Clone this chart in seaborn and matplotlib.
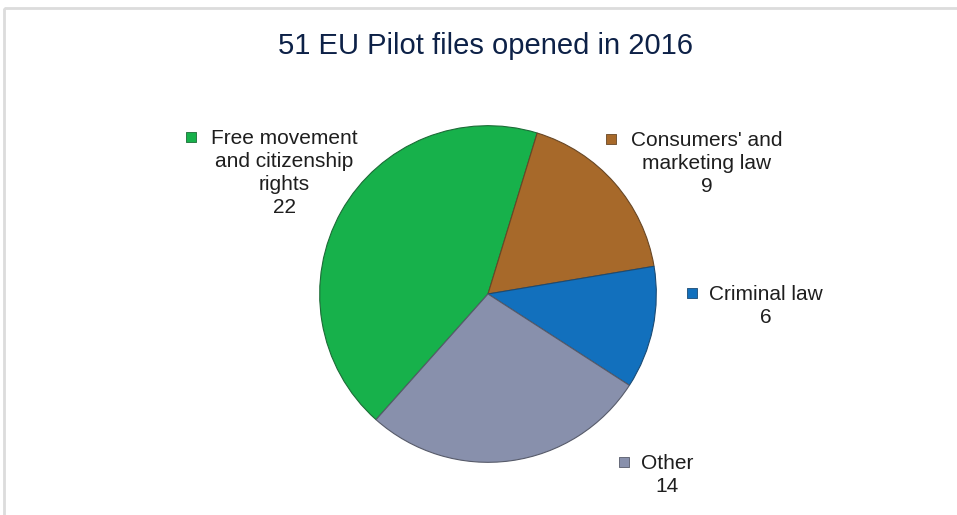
import matplotlib
matplotlib.use("Agg")
import matplotlib.pyplot as plt
import seaborn as sns
from matplotlib.patches import Rectangle

# Data
categories = ["Free movement\nand citizenship\nrights", "Consumers' and\nmarketing law",
              "Criminal law", "Other"]
counts = [22, 9, 6, 14]
slice_colors = ["#17B14B", "#A7692A", "#1270BD", "#8890AC"]
title = "51 EU Pilot files opened in 2016"

sns.set_theme(style="white")
plt.rcParams["font.family"] = ["Liberation Sans", "DejaVu Sans"]

W, H = 957, 515
fig = plt.figure(figsize=(W / 100, H / 100), dpi=100)
fig.patch.set_facecolor("white")

# Full-figure overlay in pixel coordinates for frame and labels
lab = fig.add_axes([0, 0, 1, 1])
lab.set_xlim(0, W)
lab.set_ylim(H, 0)
lab.axis("off")
lab.add_patch(Rectangle((4, 8), W + 10, H + 10, fill=False,
                        edgecolor="#DCDCDC", lw=2))

# Pie
cx, cy, r = 488, 294, 170
pie_ax = fig.add_axes([(cx - r) / W, (H - cy - r) / H, 2 * r / W, 2 * r / H])
palette = sns.color_palette(slice_colors)
wedges, _ = pie_ax.pie(counts, colors=palette, startangle=90 - 221.7,
                       counterclock=False,
                       wedgeprops=dict(linewidth=0.8))
for w, c in zip(wedges, slice_colors):
    w.set_edgecolor(sns.dark_palette(c, 3)[1])
pie_ax.set_xlim(-1.01, 1.01)
pie_ax.set_ylim(-1.01, 1.01)
pie_ax.set_aspect("equal")
pie_ax.axis("off")

lab.text(486, 46, title, ha="center", va="center", fontsize=21, color="#0D2147")

# Labels: (text center x, first line center y, marker x)
label_pos = [(284, 137, 191), (707, 139, 611), (766, 293, 692), (667, 462, 624)]
for (tx, ty, mx), name, n, c in zip(label_pos, categories, counts, slice_colors):
    lab.text(tx, ty - 8, f"{name}\n{n}", ha="center", va="top", fontsize=15,
             color="#1E1E1E", linespacing=1.27, multialignment="center")
    lab.scatter([mx], [ty], marker="s", s=55, color=c,
                edgecolor=sns.dark_palette(c, 3)[1], linewidth=0.6)

fig.savefig("out.png", dpi=100)
